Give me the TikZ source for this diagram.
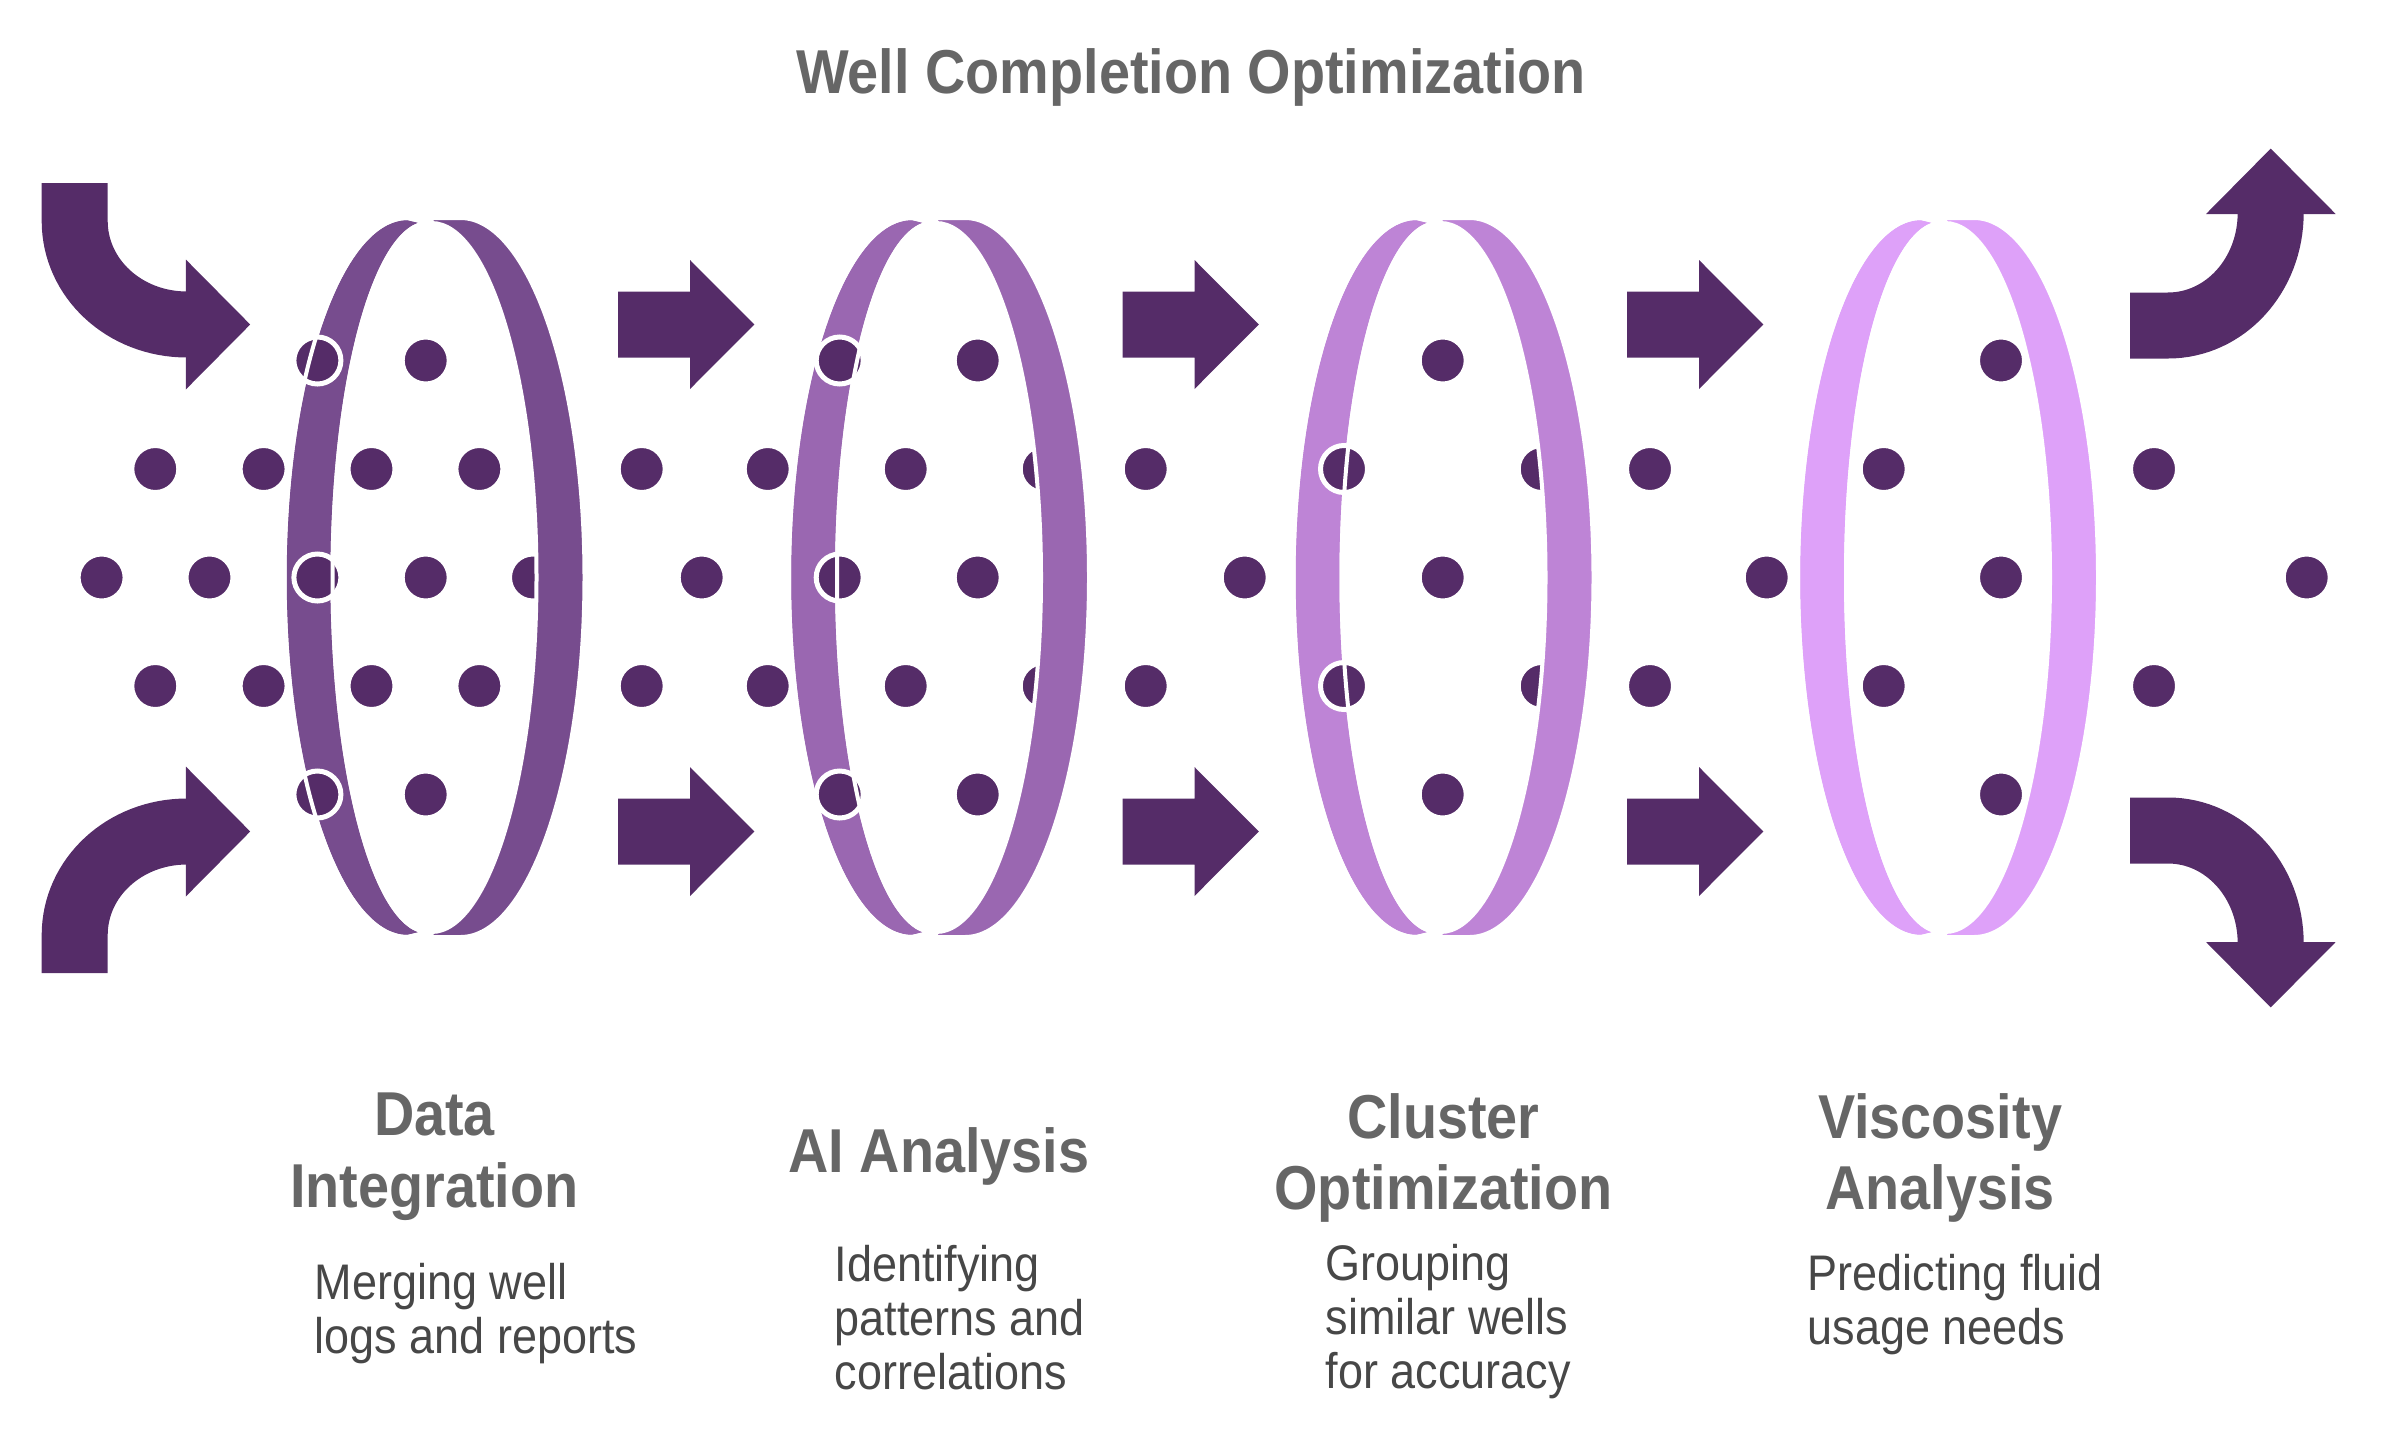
\documentclass[tikz,border=0pt]{standalone}
\usepackage{fontspec}
\setmainfont{Liberation Sans}[FakeStretch=0.9]

\definecolor{dotpurple}{HTML}{552C68}
\definecolor{ringA}{HTML}{774C8E}
\definecolor{ringB}{HTML}{9A67B1}
\definecolor{ringC}{HTML}{BE84D6}
\definecolor{ringD}{HTML}{DEA1F9}
\definecolor{headgray}{HTML}{666666}
\definecolor{textgray}{HTML}{474747}

\newcommand{\frontrim}{(0,-359.5) .. controls (-67.9,-359.5) and (-123,-198.6) .. (-123,0) .. controls (-123,198.6) and (-67.9,359.5) .. (0,359.5) -- (21,354.5) .. controls (-32,354.5) and (-75,195.8) .. (-75,0) .. controls (-75,-195.8) and (-32,-354.5) .. (21,-354.5) -- cycle}
\newcommand{\backrim}{(24,-359.5) -- (53,-359.5) .. controls (121.5,-359.5) and (177,-198.6) .. (177,0) .. controls (177,198.6) and (121.5,359.5) .. (53,359.5) -- (24,359.5) -- (24,354.5) .. controls (82,354.5) and (129,195.8) .. (129,0) .. controls (129,-195.8) and (82,-354.5) .. (24,-354.5) -- cycle}

\tikzset{
  bead/.style={fill=dotpurple,draw=white,line width=5pt},
  rim/.style={draw=white,line width=4pt},
  shaft/.style={draw=dotpurple,line width=66pt},
  headline/.style={font=\fontsize{62}{71.6}\selectfont\bfseries,text=headgray,inner sep=0pt},
  steptitle/.style={font=\fontsize{62}{71.6}\selectfont\bfseries,text=headgray,align=center,inner sep=0pt},
  stepnote/.style={font=\fontsize{50}{54}\selectfont,text=textgray,align=left,inner sep=0pt,anchor=north west}
}

\begin{document}
\begin{tikzpicture}[x=1pt,y=-1pt]
\useasboundingbox (0,0) rectangle (2382,1446);

\node[headline,anchor=base] (title) at (1191,93) {Well Completion Optimization};

\foreach \x/\y in {263.6/469,263.6/686,533/577.5,767.7/469,767.7/686,1043.7/469,1043.7/686,1541.7/469,1541.7/686,2001/360.5,2001/794.5}
  \filldraw[bead] (\x,\y) circle[radius=23.5];

\foreach \cx/\rimcol in {407.5/ringA,912/ringB,1416.5/ringC,1921/ringD} {
  \filldraw[rim,fill=\rimcol,shift={(\cx,577.5)}] \backrim;
  \filldraw[rim,fill=\rimcol,shift={(\cx,577.5)}] \frontrim;
}

\foreach \x/\y in {317.4/360.5,425.7/360.5,155.3/469,371.5/469,479.4/469,101.6/577.5,209.5/577.5,317.4/577.5,425.7/577.5,155.3/686,371.5/686,479.4/686,317.4/794.5,425.7/794.5,
  839.7/360.5,977.7/360.5,641.7/469,905.7/469,701.7/577.5,839.7/577.5,977.7/577.5,641.7/686,905.7/686,839.7/794.5,977.7/794.5,
  1442.7/360.5,1145.7/469,1344/469,1244.7/577.5,1442.7/577.5,1145.7/686,1344/686,1442.7/794.5,
  1650/469,1883.7/469,1766.7/577.5,2001/577.5,1650/686,1883.7/686,
  2154/469,2306.7/577.5,2154/686}
  \filldraw[bead] (\x,\y) circle[radius=23.5];

\foreach \cx in {407.5,912,1416.5,1921}
  \draw[rim,shift={(\cx,577.5)}] \frontrim;

\foreach \x in {618,1122.5,1627}
  \foreach \y in {324.5,831.5}
    \fill[dotpurple] (\x,\y-33) -- (\x+72,\y-33) -- (\x+72,\y-64.5) -- (\x+136.3,\y) -- (\x+72,\y+64.5) -- (\x+72,\y+33) -- (\x,\y+33) -- cycle;

\draw[shaft] (74.7,183) -- (74.7,221) .. controls (74.7,278.2) and (124.4,324.5) .. (187,324.5);
\fill[dotpurple] (185.8,259.5) -- (250.2,324.5) -- (185.8,389.5) -- cycle;
\draw[shaft] (74.7,973) -- (74.7,935) .. controls (74.7,877.8) and (124.4,831.5) .. (187,831.5);
\fill[dotpurple] (185.8,896.5) -- (250.2,831.5) -- (185.8,766.5) -- cycle;

\draw[shaft] (2130,325.5) -- (2168,325.5) .. controls (2224.7,325.5) and (2270.7,275.6) .. (2270.7,212.5);
\fill[dotpurple] (2206,214) -- (2270.7,148.6) -- (2335.7,214) -- cycle;
\draw[shaft] (2130,830.5) -- (2168,830.5) .. controls (2224.7,830.5) and (2270.7,880.4) .. (2270.7,943.5);
\fill[dotpurple] (2206,942) -- (2270.7,1007.4) -- (2335.7,942) -- cycle;

\node[steptitle,anchor=north] (integ) at (434.5,1093) {Data\\Integration};
\node[steptitle,anchor=base] (ai) at (939,1172.7) {AI Analysis};
\node[steptitle,anchor=north] (cluster) at (1443.5,1093) {Cluster\\Optimization};
\node[steptitle,anchor=north] (visc) at (1940,1093) {Viscosity\\Analysis};

\node[stepnote] (integnote) at (314.5,1263.5) {Merging well\\logs and reports};
\node[stepnote] (ainote) at (834.5,1245.3) {Identifying\\patterns and\\correlations};
\node[stepnote] (clusternote) at (1325.5,1243.6) {Grouping\\similar wells\\for accuracy};
\node[stepnote] (viscnote) at (1807.5,1253.6) {Predicting fluid\\usage needs};
\end{tikzpicture}
\end{document}
